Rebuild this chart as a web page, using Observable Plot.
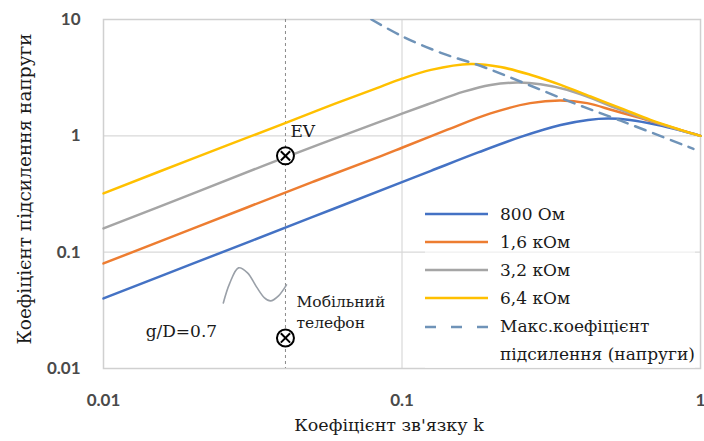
<!DOCTYPE html>
<html><head><meta charset="utf-8">
<script src="https://cdn.jsdelivr.net/npm/d3@7"></script>
<script src="https://cdn.jsdelivr.net/npm/@observablehq/plot@0.6"></script>
<style>
html,body{margin:0;padding:0;background:#fff;}
#wrap{position:relative;width:704px;height:441px;overflow:hidden;}
#legend{position:absolute;left:425px;top:200px;font-family:"DejaVu Serif","Liberation Serif",serif;font-size:17px;color:#1a1a1a;background:rgba(255,255,255,0.6);}
.row{display:flex;align-items:center;height:28px;}
.row.multi{align-items:flex-start;height:auto;line-height:28px;}
.sw{width:63px;height:28px;margin-right:12px;flex:none;}
</style></head><body><div id="wrap"></div>
<script>
// tick values and labels
const xTicks = [0.01, 0.1, 1];
const xTickLabels = ["0.01", "0.1", "1"];
const yTicks = [0.01, 0.1, 1, 10];
const yTickLabels = ["0.01", "0.1", "1", "10"];
const xLabel = "Коефіцієнт зв'язку k";
const yLabel = "Коефіцієнт підсилення напруги";

// series names and colors
const seriesNames = ["800 Ом", "1,6 кОм", "3,2 кОм", "6,4 кОм"];
const seriesColors = ["#4472C4", "#ED7D31", "#A5A5A5", "#FFC000"];
const maxName = ["Макс.коефіцієнт", "підсилення (напруги)"];
const maxColor = "#6f93b8";

// series values (coupling k, voltage gain)
const kBlue = [0.01, 0.02, 0.05, 0.1, 0.125, 0.18, 0.25, 0.34, 0.42, 0.49, 0.58, 0.72, 0.86, 1];
const gBlue = [0.04, 0.08, 0.2, 0.4, 0.5, 0.72, 0.98, 1.24, 1.37, 1.41, 1.37, 1.24, 1.11, 1];
const kOrange = [0.01, 0.02, 0.05, 0.085, 0.1, 0.142, 0.198, 0.269, 0.34, 0.417, 0.512, 0.63, 0.793, 1];
const gOrange = [0.08, 0.16, 0.4, 0.67, 0.79, 1.13, 1.56, 1.91, 2.01, 1.91, 1.65, 1.42, 1.19, 1];
const kGray = [0.01, 0.02, 0.041, 0.085, 0.1, 0.125, 0.161, 0.198, 0.243, 0.291, 0.357, 0.428, 0.54, 0.68, 0.857, 1];
const gGray = [0.16, 0.32, 0.66, 1.33, 1.55, 1.91, 2.4, 2.74, 2.87, 2.78, 2.49, 2.12, 1.67, 1.35, 1.115, 1];
const kYellow = [0.01, 0.02, 0.041, 0.06, 0.085, 0.1, 0.125, 0.17, 0.214, 0.269, 0.34, 0.428, 0.54, 0.68, 0.857, 1];
const gYellow = [0.32, 0.64, 1.3, 1.9, 2.65, 3.1, 3.69, 4.14, 3.9, 3.35, 2.74, 2.18, 1.73, 1.37, 1.126, 1];
const kMax = [0.079, 0.101, 0.135, 0.183, 0.255, 0.367, 0.54, 0.947];
const gMax = [10, 7.1, 5.17, 4.0, 2.86, 1.96, 1.35, 0.773];

// annotations
const phoneK = 0.0407;
const markerK = [0.0407, 0.0407];
const markerG = [0.673, 0.0183];
const waveK = [0.0252, 0.02643, 0.02833, 0.03037, 0.03255, 0.03462, 0.03626, 0.03858, 0.04102];
const waveG = [0.0366, 0.0534, 0.0733, 0.0664, 0.0503, 0.0405, 0.0381, 0.0421, 0.0523];
const noteText = ["EV", "g/D=0.7"];
const noteK = [0.0423, 0.01384];
const noteG = [1.08, 0.0206];
const phoneText = ["Мобільний", "телефон"];
const phoneTextK = [0.0443, 0.0443];
const phoneTextG = [0.0374, 0.0247];

const kArr = [kBlue, kOrange, kGray, kYellow];
const gArr = [gBlue, gOrange, gGray, gYellow];
const lines = seriesNames.map((name, s) => kArr[s].map((k, i) => ({name, k, g: gArr[s][i]})));
const maxLine = kMax.map((k, i) => ({k, g: gMax[i]}));
const wave = waveK.map((k, i) => ({k, g: waveG[i]}));
const markers = markerK.map((k, i) => ({k, g: markerG[i]}));
const notes = noteText.map((t, i) => ({t, k: noteK[i], g: noteG[i]}));
const phoneNotes = phoneText.map((t, i) => ({t, k: phoneTextK[i], g: phoneTextG[i]}));

const serif = "'DejaVu Serif', 'Liberation Serif', serif";
const tickFont = "Lato, 'Liberation Sans', sans-serif";

const chart = Plot.plot({
  width: 704, height: 441,
  marginLeft: 103, marginRight: 4, marginTop: 19, marginBottom: 73,
  x: {type: "log", domain: [0.01, 1], axis: null},
  y: {type: "log", domain: [0.01, 10], axis: null},
  style: {background: "transparent", overflow: "visible"},
  marks: [
    Plot.ruleY([0.1, 1], {stroke: "#d9d9d9", strokeWidth: 1.2}),
    Plot.ruleX([0.1], {stroke: "#d9d9d9", strokeWidth: 1.2}),
    Plot.frame({stroke: "#d0d0d0", strokeWidth: 1.5}),
    Plot.ruleX([phoneK], {stroke: "#8a8a8a", strokeDasharray: "3,3", strokeWidth: 1}),
    Plot.line(wave, {x: "k", y: "g", stroke: "#9aa0a8", strokeWidth: 1.6, curve: "catmull-rom"}),
    ...lines.map((d, s) => Plot.line(d, {x: "k", y: "g", stroke: seriesColors[s], strokeWidth: 2.5, curve: "catmull-rom"})),
    Plot.line(maxLine, {x: "k", y: "g", stroke: maxColor, strokeWidth: 2.5, strokeDasharray: "11,8", curve: "catmull-rom", clip: true}),
    Plot.dot(markers, {x: "k", y: "g", r: 8.5, fill: "white", stroke: "black", strokeWidth: 2}),
    Plot.dot(markers, {x: "k", y: "g", r: 4.3, symbol: "times", stroke: "black", strokeWidth: 2}),
    Plot.text(notes, {x: "k", y: "g", text: "t", textAnchor: "start", fontFamily: serif, fontSize: 17, fill: "#1a1a1a"}),
    Plot.text(phoneNotes, {x: "k", y: "g", text: "t", textAnchor: "start", fontFamily: serif, fontSize: 15.5, fill: "#1a1a1a"}),
    Plot.text(xTicks, {x: d => d, frameAnchor: "bottom", dy: 32, lineAnchor: "middle", text: (d, i) => xTickLabels[i], fontFamily: tickFont, fontWeight: "bold", fontSize: 17, fill: "#4a4a4a"}),
    Plot.text(yTicks, {y: d => d, frameAnchor: "left", dx: -23, textAnchor: "end", lineAnchor: "middle", text: (d, i) => yTickLabels[i], fontFamily: tickFont, fontWeight: "bold", fontSize: 17, fill: "#4a4a4a"}),
    Plot.text([xLabel], {frameAnchor: "bottom", dy: 57, dx: -13, lineAnchor: "middle", textAnchor: "middle", text: d => d, fontFamily: serif, fontSize: 17.5, fill: "#1a1a1a"}),
    Plot.text([yLabel], {frameAnchor: "left", dx: -78, dy: -5, rotate: -90, lineAnchor: "middle", textAnchor: "middle", text: d => d, fontFamily: serif, fontSize: 18.5, fill: "#1a1a1a"})
  ]
});

const wrap = document.getElementById("wrap");
wrap.appendChild(chart);

// legend
const legend = document.createElement("div");
legend.id = "legend";
seriesNames.forEach((name, s) => {
  const row = document.createElement("div");
  row.className = "row";
  row.innerHTML = `<svg class="sw" width="63" height="28"><line x1="0" x2="63" y1="14" y2="14" stroke="${seriesColors[s]}" stroke-width="2.5"/></svg><span>${name}</span>`;
  legend.appendChild(row);
});
const mrow = document.createElement("div");
mrow.className = "row multi";
mrow.innerHTML = `<svg class="sw" width="63" height="28"><line x1="0" x2="63" y1="15" y2="15" stroke="${maxColor}" stroke-width="2.5" stroke-dasharray="11,15"/></svg><span>${maxName.join("<br>")}</span>`;
legend.appendChild(mrow);
wrap.appendChild(legend);
</script>
</body></html>
